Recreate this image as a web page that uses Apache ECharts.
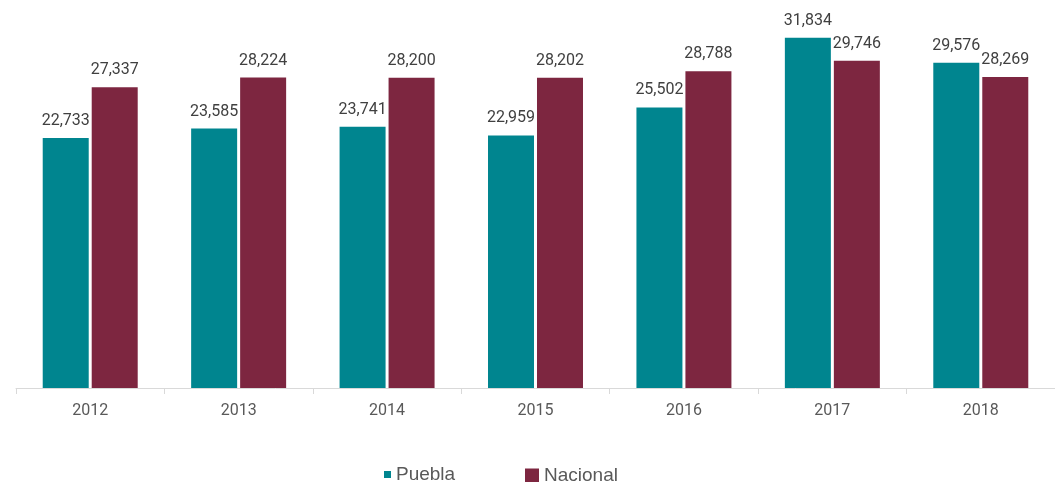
<!DOCTYPE html>
<html>
<head>
<meta charset="utf-8">
<script src="https://cdn.jsdelivr.net/npm/echarts@6/dist/echarts.min.js"></script>
<style>
html,body{margin:0;padding:0;background:#fff;}
#chart{width:1055px;height:482px;}
</style>
</head>
<body>
<div id="chart"></div>
<script>
var categories = ['2012', '2013', '2014', '2015', '2016', '2017', '2018'];
var puebla = [22733, 23585, 23741, 22959, 25502, 31834, 29576];
var nacional = [27337, 28224, 28200, 28202, 28788, 29746, 28269];
var seriesNames = ['Puebla', 'Nacional'];

var chart = echarts.init(document.getElementById('chart'), null, {renderer: 'canvas'});
var labelFont = 'Roboto';
function fmt(p) { return Number(p.value).toLocaleString('en-US'); }

var option = {
  animation: false,
  backgroundColor: '#ffffff',
  grid: { left: 16, right: -4, top: 3, bottom: 94, containLabel: false },
  xAxis: {
    type: 'category',
    data: categories,
    axisLine: { lineStyle: { color: '#d9d9d9', width: 1 } },
    axisTick: { show: true, length: 6, lineStyle: { color: '#d9d9d9' } },
    axisLabel: { color: '#595959', fontSize: 16, fontFamily: labelFont, margin: 15 }
  },
  yAxis: {
    type: 'value', min: 0, max: 35000,
    show: false,
    splitLine: { show: false }
  },
  legend: [
    {
      data: [seriesNames[0]],
      left: 384, top: 465, padding: 0,
      itemWidth: 7, itemHeight: 7, icon: 'rect',
      textStyle: { color: '#595959', fontSize: 19, fontFamily: 'Liberation Sans' }
    },
    {
      data: [seriesNames[1]],
      left: 525, top: 466, padding: 0,
      itemWidth: 14, itemHeight: 14, icon: 'rect',
      textStyle: { color: '#595959', fontSize: 19, fontFamily: 'Liberation Sans' }
    }
  ],
  series: [
    {
      name: seriesNames[0], type: 'bar', data: puebla,
      barWidth: 46, barGap: '6.5%',
      itemStyle: { color: '#00858f' },
      label: { show: true, position: 'top', distance: 9, formatter: fmt,
        color: '#404040', fontSize: 16, fontFamily: labelFont }
    },
    {
      name: seriesNames[1], type: 'bar', data: nacional,
      barWidth: 46, barGap: '6.5%',
      itemStyle: { color: '#7d2640' },
      label: { show: true, position: 'top', distance: 9, formatter: fmt,
        color: '#404040', fontSize: 16, fontFamily: labelFont }
    }
  ]
};
chart.setOption(option);
</script>
</body>
</html>
